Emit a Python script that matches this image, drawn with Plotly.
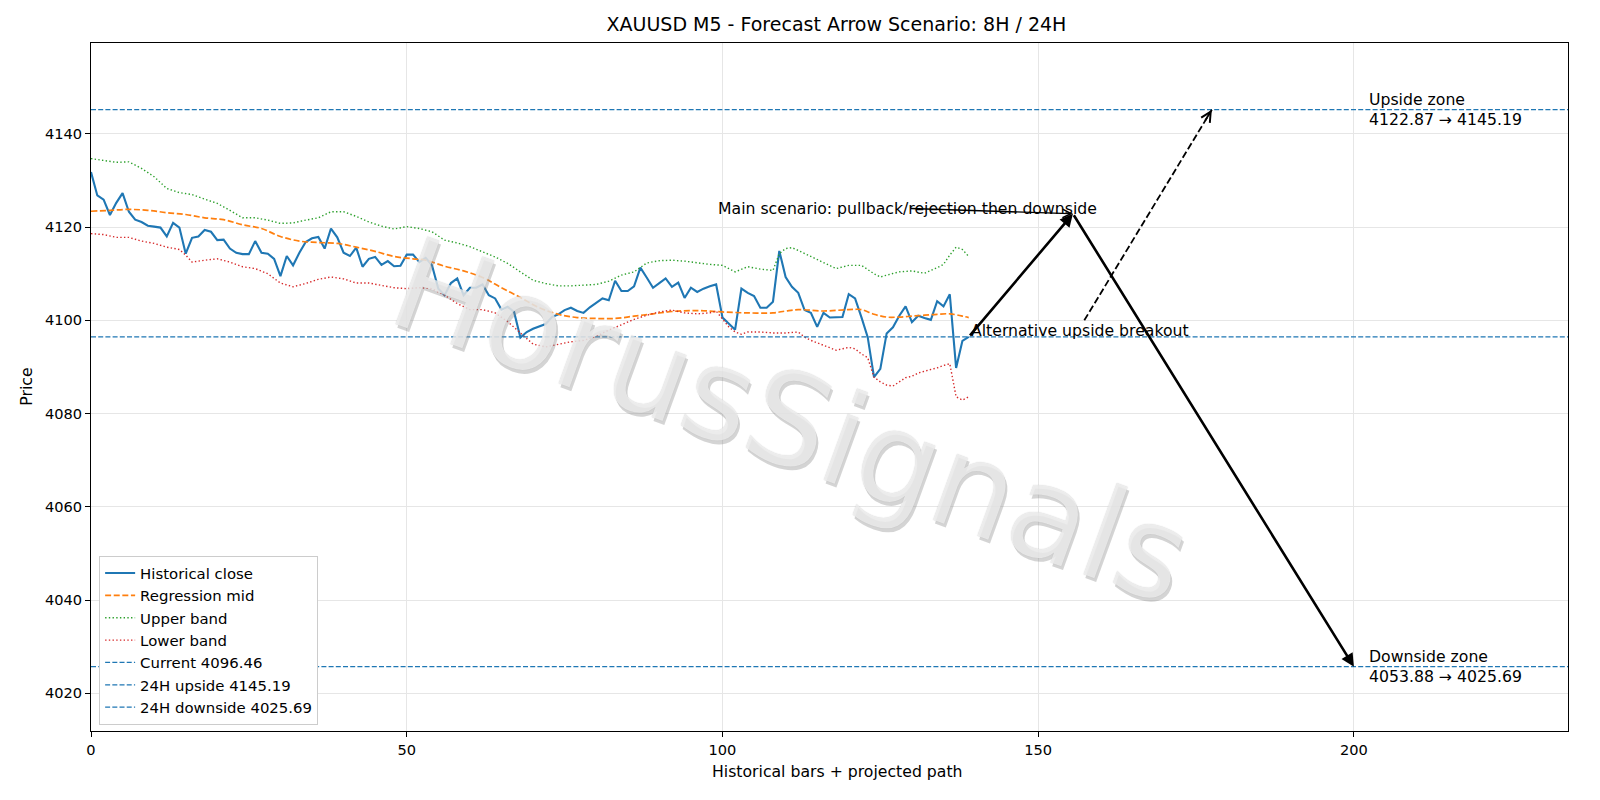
import plotly.graph_objects as go

# ---------------- data ----------------
hist_close = [
    4131.8, 4126.8, 4125.9, 4122.6, 4125.2, 4127.3, 4123.3, 4121.6, 4121.1, 4120.3,
    4120.1, 4119.9, 4118.0, 4120.9, 4119.9, 4114.3, 4117.7, 4118.0, 4119.4, 4119.0,
    4117.2, 4117.3, 4115.4, 4114.5, 4114.2, 4114.2, 4117.0, 4114.5, 4114.3, 4113.2,
    4109.5, 4113.8, 4111.8, 4114.5, 4116.8, 4117.6, 4117.9, 4115.4, 4119.7, 4117.8,
    4114.5, 4113.8, 4115.6, 4111.5, 4113.2, 4113.6, 4111.9, 4112.7, 4111.6, 4111.7,
    4114.1, 4114.1, 4112.5, 4113.4, 4111.8, 4106.8, 4105.4, 4108.0, 4109.0, 4105.4,
    4107.0, 4107.0, 4107.7, 4105.4, 4104.7, 4102.3, 4102.9, 4101.8, 4096.3, 4097.5,
    4098.2, 4098.7, 4099.2, 4100.7, 4101.3, 4102.2, 4102.7, 4102.0, 4101.6, 4102.8,
    4103.8, 4104.7, 4104.3, 4108.5, 4106.3, 4106.3, 4107.3, 4111.3, 4109.2, 4107.0,
    4108.0, 4109.0, 4107.2, 4108.1, 4104.8, 4107.0, 4106.1, 4106.8, 4107.3, 4107.7,
    4100.6, 4099.4, 4098.0, 4106.8, 4105.9, 4105.2, 4102.7, 4102.7, 4104.0, 4114.9,
    4109.3, 4107.2, 4105.9, 4102.2, 4101.6, 4098.6, 4101.6, 4100.6, 4100.6, 4100.7,
    4105.6, 4104.7, 4100.7, 4096.4, 4087.8, 4089.6, 4097.2, 4098.5, 4101.0, 4103.0,
    4099.6, 4101.0, 4100.5, 4100.1, 4104.1, 4103.0, 4105.6, 4089.8, 4095.6, 4096.46,
]
hist_x = list(range(len(hist_close)))

mid_x = [0, 3, 6, 9, 12, 15, 18, 21, 24, 27, 30, 33, 36, 39, 42, 45, 48, 51, 53, 56,
         59, 62, 65, 68, 71, 74, 77, 80, 83, 86, 89, 92, 96, 100, 104, 108, 110, 112,
         116, 120, 122, 124, 126, 128, 130, 132, 134, 136, 138, 139]
mid_y = [4123.4, 4123.6, 4123.8, 4123.6, 4123.1, 4122.7, 4122.0, 4121.6, 4120.5, 4119.7,
         4118.0, 4117.0, 4116.7, 4116.5, 4115.7, 4114.8, 4113.7, 4113.2, 4112.9, 4111.6,
         4110.6, 4109.2, 4107.0, 4104.9, 4102.7, 4101.3, 4100.6, 4100.4, 4100.4, 4100.9,
         4101.4, 4101.9, 4102.1, 4101.8, 4101.6, 4101.6, 4102.0, 4102.3, 4102.0, 4102.3,
         4102.3, 4101.3, 4100.7, 4100.7, 4100.9, 4101.1, 4101.3, 4101.4, 4100.9, 4100.6]

upper_x = [0, 2, 4, 6, 8, 10, 12, 14, 16, 18, 20, 22, 24, 26, 28, 30, 32, 34, 36, 38,
           40, 42, 44, 46, 48, 50, 52, 54, 56, 58, 60, 62, 64, 66, 68, 70, 72, 74, 76,
           78, 80, 82, 84, 86, 88, 90, 92, 94, 96, 98, 100, 102, 104, 106, 108, 109,
           110, 111, 112, 114, 116, 118, 120, 122, 124, 125, 126, 128, 130, 132, 134,
           135, 136, 137, 138, 139]
upper_y = [4134.7, 4134.3, 4133.9, 4134.0, 4132.6, 4130.8, 4128.3, 4127.4, 4127.0, 4126.0,
           4125.1, 4123.6, 4122.0, 4122.0, 4121.5, 4120.8, 4120.9, 4121.5, 4122.0, 4123.3,
           4123.3, 4122.3, 4121.1, 4120.2, 4119.6, 4120.1, 4119.7, 4119.0, 4117.2, 4116.6,
           4115.8, 4114.7, 4113.6, 4112.2, 4110.4, 4108.6, 4107.9, 4107.4, 4107.4, 4107.5,
           4107.7, 4108.4, 4109.7, 4110.4, 4112.3, 4112.8, 4112.9, 4112.7, 4112.3, 4112.0,
           4111.8, 4110.4, 4111.5, 4111.0, 4110.7, 4114.3, 4115.4, 4115.6, 4115.0, 4113.7,
           4112.3, 4111.1, 4111.8, 4111.8, 4110.0, 4109.3, 4109.7, 4110.4, 4110.6, 4110.1,
           4111.3, 4112.0, 4114.0, 4115.7, 4115.2, 4113.7]

lower_x = [0, 2, 4, 6, 8, 10, 12, 14, 15, 16, 18, 20, 22, 24, 26, 28, 30, 32, 34, 36,
           38, 40, 42, 44, 46, 48, 50, 52, 54, 56, 58, 60, 62, 64, 66, 68, 70, 72, 74,
           76, 78, 80, 82, 84, 86, 88, 90, 92, 94, 96, 98, 99, 100, 101, 102, 103, 104,
           106, 108, 110, 112, 113, 114, 116, 118, 120, 121, 122, 123, 124, 125, 126,
           127, 128, 129, 130, 131, 132, 133, 134, 135, 136, 137, 138, 139]
lower_y = [4118.6, 4118.4, 4117.8, 4117.8, 4117.0, 4116.5, 4115.7, 4115.2, 4114.0, 4112.5,
           4112.9, 4113.2, 4112.5, 4111.5, 4111.1, 4110.0, 4108.0, 4107.2, 4107.9, 4108.8,
           4109.3, 4108.9, 4108.0, 4108.0, 4107.5, 4107.0, 4106.8, 4107.0, 4106.8, 4105.4,
           4103.6, 4102.3, 4102.3, 4101.6, 4099.7, 4097.2, 4094.9, 4094.3, 4094.9, 4095.4,
           4095.7, 4096.6, 4097.9, 4099.0, 4100.2, 4101.1, 4101.8, 4102.2, 4101.6, 4101.4,
           4101.6, 4102.0, 4100.4, 4098.6, 4097.5, 4097.0, 4097.5, 4097.5, 4097.3, 4097.3,
           4097.5, 4096.4, 4095.7, 4094.6, 4093.6, 4094.2, 4093.9, 4092.8, 4092.0, 4087.8,
           4086.8, 4086.1, 4085.9, 4086.8, 4087.7, 4088.0, 4088.7, 4089.1, 4089.4, 4089.8,
           4090.3, 4090.7, 4083.6, 4082.9, 4083.6]

current_price = 4096.46
upside_24h = 4145.19
downside_24h = 4025.69
upside_8h = 4122.87
downside_8h = 4053.88

# projected path: current -> pullback -> downside target
scenario_x = [139, 155.5, 200]
scenario_y = [current_price, upside_8h, downside_24h]
# alternative breakout path (start just above its label)
alt_x = [157.3, 177.5]
alt_y = [4100.0, upside_24h]

x_range = [0, 233.9]
y_range = [4011.9, 4159.5]
x_ticks = [0, 50, 100, 150, 200]
y_ticks = [4020, 4040, 4060, 4080, 4100, 4120, 4140]

FONT = "DejaVu Sans"
TXT = 15.7
TICK = 14.6
BLUE, ORANGE, GREEN, RED = "#1f77b4", "#ff7f0e", "#2ca02c", "#d62728"

fig = go.Figure()
fig.add_trace(go.Scatter(x=hist_x, y=hist_close, mode="lines", name="Historical close",
                         line=dict(color=BLUE, width=2.1)))
fig.add_trace(go.Scatter(x=mid_x, y=mid_y, mode="lines", name="Regression mid",
                         line=dict(color=ORANGE, width=1.7, dash="6px,2.6px"),
                         line_shape="spline"))
fig.add_trace(go.Scatter(x=upper_x, y=upper_y, mode="lines", name="Upper band",
                         line=dict(color=GREEN, width=1.4, dash="1.4px,2.3px")))
fig.add_trace(go.Scatter(x=lower_x, y=lower_y, mode="lines", name="Lower band",
                         line=dict(color=RED, width=1.4, dash="1.4px,2.3px")))
for label, val in [("Current", current_price), ("24H upside", upside_24h),
                   ("24H downside", downside_24h)]:
    fig.add_trace(go.Scatter(x=x_range, y=[val, val], mode="lines",
                             name=f"{label} {val:.2f}",
                             line=dict(color=BLUE, width=1.3, dash="5px,2.2px")))

# dashed alternative path
fig.add_trace(go.Scatter(x=alt_x, y=alt_y, mode="lines", showlegend=False,
                         line=dict(color="black", width=1.8, dash="7px,3px")))

annotations = []
# watermark
annotations.append(dict(
    text="HorusSignals", xref="paper", yref="paper", x=0.474, y=0.452,
    xanchor="center", yanchor="middle", showarrow=False, textangle=20,
    font=dict(family=FONT, size=128, color="rgba(255,255,255,0.68)",
              shadow="3px 3px 0px rgba(140,140,140,0.55), 0px 0px 1px rgba(130,130,130,0.7)"),
))
# main path arrows
annotations.append(dict(x=scenario_x[1], y=scenario_y[1], ax=scenario_x[0], ay=scenario_y[0],
                        xref="x", yref="y", axref="x", ayref="y", text="", showarrow=True,
                        arrowhead=2, arrowsize=1.0, arrowwidth=2.6, arrowcolor="black",
                        standoff=0, startstandoff=0))
annotations.append(dict(x=scenario_x[2], y=scenario_y[2], ax=scenario_x[1], ay=scenario_y[1],
                        xref="x", yref="y", axref="x", ayref="y", text="", showarrow=True,
                        arrowhead=2, arrowsize=1.0, arrowwidth=2.6, arrowcolor="black",
                        standoff=0, startstandoff=0))
# head of the dashed alternative arrow
annotations.append(dict(x=alt_x[1], y=alt_y[1],
                        ax=alt_x[1] - 0.06 * (alt_x[1] - alt_x[0]),
                        ay=alt_y[1] - 0.06 * (alt_y[1] - alt_y[0]),
                        xref="x", yref="y", axref="x", ayref="y", text="", showarrow=True,
                        arrowhead=5, arrowsize=1.1, arrowwidth=1.8, arrowcolor="black",
                        standoff=0, startstandoff=0))
# main scenario label + thin arrow
annotations.append(dict(x=99, y=4124.0, xref="x", yref="y", xanchor="left", yanchor="middle",
                        text="Main scenario: pullback/rejection then downside", showarrow=False,
                        font=dict(family=FONT, size=TXT, color="black")))
annotations.append(dict(x=scenario_x[1], y=scenario_y[1], ax=129.6, ay=4124.0,
                        xref="x", yref="y", axref="x", ayref="y", text="", showarrow=True,
                        arrowhead=5, arrowsize=1.2, arrowwidth=1.4, arrowcolor="black",
                        standoff=0, startstandoff=0))
# alternative label
annotations.append(dict(x=139, y=4097.8, xref="x", yref="y", xanchor="left", yanchor="middle",
                        text="Alternative upside breakout", showarrow=False,
                        font=dict(family=FONT, size=TXT, color="black")))
# zone labels
annotations.append(dict(x=202, y=upside_24h, xref="x", yref="y", xanchor="left",
                        yanchor="middle", align="left", showarrow=False,
                        text=f"Upside zone<br>{upside_8h:.2f} → {upside_24h:.2f}",
                        font=dict(family=FONT, size=TXT, color="black")))
annotations.append(dict(x=202, y=downside_24h, xref="x", yref="y", xanchor="left",
                        yanchor="middle", align="left", showarrow=False,
                        text=f"Downside zone<br>{downside_8h:.2f} → {downside_24h:.2f}",
                        font=dict(family=FONT, size=TXT, color="black")))
# axis titles
annotations.append(dict(text="Historical bars + projected path", xref="paper", yref="paper",
                        x=0.5055, y=-0.0595, xanchor="center", yanchor="middle", showarrow=False,
                        font=dict(family=FONT, size=TXT, color="black")))
annotations.append(dict(text="Price", xref="paper", yref="paper", x=-0.0442, y=0.5,
                        xanchor="center", yanchor="middle", textangle=-90, showarrow=False,
                        font=dict(family=FONT, size=TXT, color="black")))

axis_common = dict(showgrid=True, gridcolor="#e6e6e6", gridwidth=1.1, zeroline=False,
                   showline=True, mirror=True, linecolor="black", linewidth=1.1,
                   ticks="outside", ticklen=5, tickwidth=1.1, tickcolor="black",
                   tickfont=dict(family=FONT, size=TICK, color="black"))

fig.update_layout(
    width=1600, height=800,
    margin=dict(l=91, r=32, t=43, b=69),
    paper_bgcolor="white", plot_bgcolor="white",
    font=dict(family=FONT, size=TXT, color="black"),
    title=dict(text="XAUUSD M5 - Forecast Arrow Scenario: 8H / 24H", x=0.5047, xref="paper",
               xanchor="center", y=1 - 24.5 / 800, yref="container", yanchor="middle",
               font=dict(family=FONT, size=19, color="black")),
    xaxis=dict(range=x_range, tickvals=x_ticks, **axis_common),
    yaxis=dict(range=y_range, tickvals=y_ticks, **axis_common),
    legend=dict(x=0.0055, y=0.009, xanchor="left", yanchor="bottom", bgcolor="white",
                bordercolor="#cccccc", borderwidth=1,
                font=dict(family=FONT, size=14.9, color="black"), tracegroupgap=0),
    annotations=annotations,
    showlegend=True,
)

fig.write_html("out.html")
